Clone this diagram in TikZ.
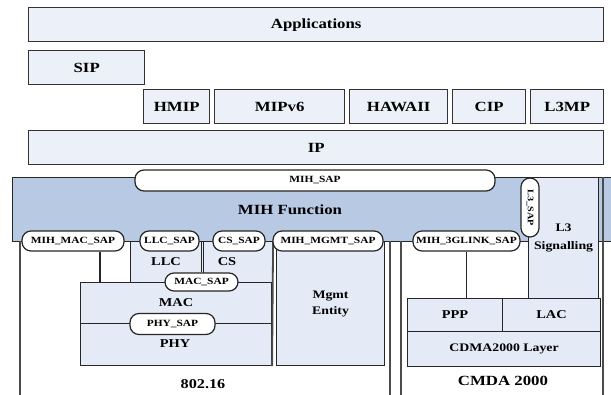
\documentclass[tikz,border=0pt]{standalone}
\usepackage{fontspec}
\setmainfont{Liberation Serif}[FakeStretch=1.2]
\usepackage{tikz}

\definecolor{bandblue}{RGB}{184,201,227}
\definecolor{boxfill}{RGB}{228,234,246}
\definecolor{layfill}{RGB}{236,240,249}

\begin{document}
\begin{tikzpicture}[x=1pt,y=-1pt,line width=1pt,
  layer/.style={draw=black!80,line width=1.4pt,fill=layfill,anchor=north west,inner sep=0pt,
    minimum height=34pt,font=\fontsize{14}{16}\selectfont\bfseries},
  part/.style={draw=black!85,line width=1.1pt,fill=boxfill,anchor=north west,inner sep=0pt},
  sap/.style={draw=black!85,line width=1.2pt,fill=white,rounded corners=9pt,inner sep=0pt,
    minimum height=20pt,font=\fontsize{9.5}{10}\selectfont\bfseries},
  wire/.style={draw=black!85,line width=1.2pt},
  wall/.style={draw=black!70,line width=1.8pt},
  lbl/.style={inner sep=1pt,font=\fontsize{12}{13}\selectfont\bfseries}]
\useasboundingbox (0,0) rectangle (611,394);

% upper protocol layers
\node[layer,minimum width=575pt] (apps) at (28,7) {Applications};
\node[layer,minimum width=116pt] (sip) at (28,50) {SIP};
\node[layer,minimum width=66pt] (hmip) at (143,89) {HMIP};
\node[layer,minimum width=130pt] (mipv6) at (214,89) {MIPv6};
\node[layer,minimum width=98pt] (hawaii) at (349,89) {HAWAII};
\node[layer,minimum width=73pt] (cip) at (452,89) {CIP};
\node[layer,minimum width=73pt] (l3mp) at (530,89) {L3MP};
\node[layer,minimum width=575pt] (ip) at (28,130) {IP};

% MIH function band
\node[draw=black!85,line width=1.2pt,fill=bandblue,anchor=north west,minimum width=603pt,
  minimum height=64pt,inner sep=0pt] (band) at (12,177) {};
\node[font=\fontsize{14}{17}\selectfont\bfseries] (mihf) at (290,210) {MIH Function};
\node[part,minimum width=70pt,minimum height=121pt,align=center,
  font=\fontsize{11.5}{18}\selectfont\bfseries] (l3sig) at (528,177) {L3\\Signalling};

% 802.16 and CDMA 2000 stacks
\draw[wall,line width=1.3pt] (20,241) -- (20,396);
\draw[wall] (390,241) -- (390,396);
\draw[wall,line width=1.3pt] (401,241) -- (401,396);
\draw[wall,line width=1.3pt] (603,177) -- (603,396);

\node[part,minimum width=73pt,minimum height=41pt] (llc) at (130,241) {};
\node[part,minimum width=69pt,minimum height=41pt] (cs) at (203,241) {};
\node[lbl] (llct) at (166,262) {LLC};
\node[lbl] (cst) at (227,262) {CS};
\node[part,minimum width=191pt,minimum height=41pt,font=\fontsize{12}{13}\selectfont\bfseries] (mac) at (80,282) {MAC};
\node[part,minimum width=191pt,minimum height=42pt] (phy) at (80,323) {};
\node[lbl] (phyt) at (175,344) {PHY};
\draw[wall] (cs.north east) -- (phy.south east);
\node[part,minimum width=108pt,minimum height=124pt,align=center,
  font=\fontsize{11.5}{16}\selectfont\bfseries] (mgmt) at (276,241) {Mgmt\\Entity};

\node[part,minimum width=95pt,minimum height=33pt,font=\fontsize{12}{13}\selectfont\bfseries] (ppp) at (407,298) {PPP};
\node[part,minimum width=98pt,minimum height=33pt,font=\fontsize{12}{13}\selectfont\bfseries] (lac) at (502,298) {LAC};
\node[part,minimum width=193pt,minimum height=35pt,font=\fontsize{11.5}{13}\selectfont\bfseries] (cdma) at (407,331) {CDMA2000 Layer};

% service access points
\node[sap,minimum width=102pt] (mihmacsap) at (73,241) {MIH\_MAC\_SAP};
\node[sap,minimum width=59pt] (llcsap) at (169.5,241) {LLC\_SAP};
\node[sap,minimum width=52pt] (cssap) at (239,241) {CS\_SAP};
\node[sap,minimum width=110pt] (mgmtsap) at (328,241) {MIH\_MGMT\_SAP};
\node[sap,minimum width=107pt] (g3sap) at (466.5,241) {MIH\_3GLINK\_SAP};
\node[sap,minimum width=73pt,minimum height=18pt] (macsap) at (201.5,282) {MAC\_SAP};
\node[sap,minimum width=85pt,minimum height=21pt] (physap) at (172.5,324) {PHY\_SAP};
\node[sap,minimum width=360pt,minimum height=21pt] (mihsap) at (315,180.5) {MIH\_SAP};
\node[sap,minimum width=59pt,minimum height=18pt,rotate=-90,font=\fontsize{8.5}{9}\selectfont\bfseries] (l3sap) at (530,207.5) {L3\_SAP};

% links down to the SAPs
\draw[wire] (macsap.north) -- (macsap.north |- cssap.west);
\draw[wire] (g3sap.south) -- (g3sap.south |- ppp.north);
\draw[wire] ([xshift=27pt]mihmacsap.south) -- ([xshift=27pt]mihmacsap.south |- mac.north);

\node[font=\fontsize{13.5}{15}\selectfont\bfseries] (wimax) at (203,384) {802.16};
\node[font=\fontsize{14}{16}\selectfont\bfseries] (cdmat) at (503,381) {CMDA 2000};
\end{tikzpicture}
\end{document}
